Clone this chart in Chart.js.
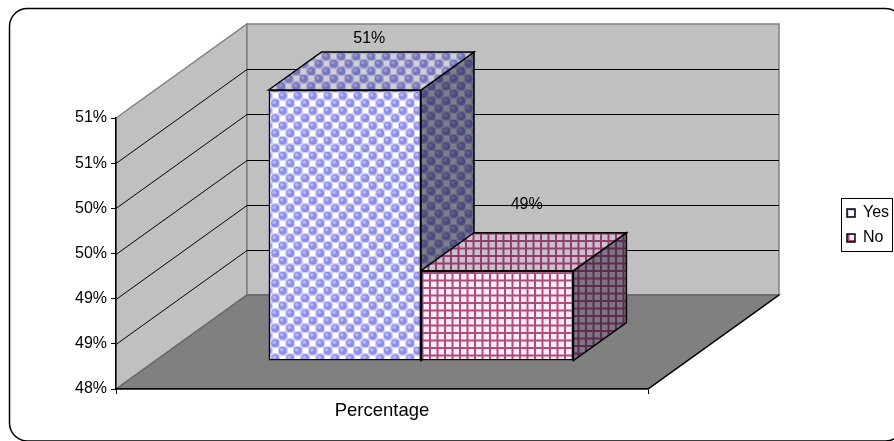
<!DOCTYPE html>
<html>
<head>
<meta charset="utf-8">
<title>Percentage</title>
<style>
  html, body { margin: 0; padding: 0; background: #fff; }
  canvas { display: block; }
</style>
<script src="https://cdn.jsdelivr.net/npm/chart.js@4/dist/chart.umd.min.js"></script>
</head>
<body>
<canvas id="chart" width="894" height="441"></canvas>
<script>
const categories = ['Percentage'];
const yesValues = [51];
const noValues = [49];
const axisMin = 48;
const axisMax = 51;
const axisStep = 0.5;

const FONT = { family: '"Liberation Sans", Arial, sans-serif', size: 16 };

// projection of the 3D box: floor depth, where the bars stand, how deep they are
const WALL = { dx: 131, dy: -94 };
const BAR_SHIFT = { dx: 39, dy: -28 };
const BAR_DEPTH = { dx: 53, dy: -38 };
const LABEL_LIFT = [13, 28];
const LABEL_NUDGE = [-2, 3];

function makeCell(draw) {
  const c = document.createElement('canvas');
  c.width = 15;
  c.height = 15;
  draw(c.getContext('2d'));
  return c;
}

// lilac bubbles on a white/pale check
function bubbleCell(g) {
  g.fillStyle = '#d2d2f9';
  g.fillRect(0, 0, 15, 15);
  g.fillStyle = '#ffffff';
  g.fillRect(9, 1, 5, 5);
  g.fillRect(1, 9, 5, 5);
  [[3.75, 3.75], [11.25, 11.25]].forEach(([x, y]) => {
    g.fillStyle = '#8f8fe8';
    g.beginPath();
    g.arc(x, y, 4, 0, Math.PI * 2);
    g.fill();
    g.fillStyle = '#b8b8f3';
    g.beginPath();
    g.arc(x - 1, y - 1, 1.8, 0, Math.PI * 2);
    g.fill();
  });
}

// maroon lattice on pale pink
function latticeCell(g) {
  g.fillStyle = '#fdeafb';
  g.fillRect(0, 0, 15, 15);
  g.fillStyle = '#b04c78';
  [0, 7.5].forEach(p => {
    g.fillRect(p, 0, 2, 15);
    g.fillRect(0, p, 15, 2);
  });
}

const ctx = document.getElementById('chart').getContext('2d');
const bubbles = ctx.createPattern(makeCell(bubbleCell), 'repeat');
const lattice = ctx.createPattern(makeCell(latticeCell), 'repeat');

function poly(g, pts) {
  g.beginPath();
  pts.forEach(([x, y], i) => (i ? g.lineTo(x, y) : g.moveTo(x, y)));
  g.closePath();
}

function face(g, pts, fill, shade) {
  poly(g, pts);
  g.fillStyle = fill;
  g.fill();
  g.fillStyle = `rgba(20,20,40,${shade})`;
  g.fill();
  g.strokeStyle = '#000';
  g.lineWidth = 1.5;
  g.stroke();
}

// frame, walls, floor and gridlines behind the axes
const backdrop = {
  id: 'backdrop',
  beforeDraw(chart) {
    const g = chart.ctx;
    const { left, right, bottom } = chart.chartArea;
    const y = chart.scales.y;
    const top = y.getPixelForValue(axisMax);
    const d = WALL;

    g.save();
    g.strokeStyle = '#000';
    g.lineWidth = 1.5;
    g.beginPath();
    g.roundRect(9.5, 8.5, 894, 432.5, 18);
    g.stroke();

    g.lineWidth = 1.5;
    g.strokeStyle = '#808080';
    poly(g, [[left, top], [left + d.dx, top + d.dy], [left + d.dx, bottom + d.dy], [left, bottom]]);
    g.fillStyle = '#c0c0c0';
    g.fill();
    g.stroke();
    poly(g, [[left + d.dx, top + d.dy], [right + d.dx, top + d.dy], [right + d.dx, bottom + d.dy], [left + d.dx, bottom + d.dy]]);
    g.fill();
    g.stroke();

    poly(g, [[left, bottom], [left + d.dx, bottom + d.dy], [right + d.dx, bottom + d.dy], [right, bottom]]);
    g.fillStyle = '#808080';
    g.fill();
    g.strokeStyle = '#666';
    g.stroke();
    g.strokeStyle = '#000';
    g.beginPath();
    g.moveTo(right, bottom);
    g.lineTo(right + d.dx, bottom + d.dy);
    g.stroke();

    g.strokeStyle = '#000';
    g.lineWidth = 1;
    y.ticks.forEach(t => {
      if (t.value <= axisMin || t.value >= axisMax) return;
      const py = Math.round(y.getPixelForValue(t.value)) + 0.5;
      g.beginPath();
      g.moveTo(left, py);
      g.lineTo(left + d.dx, py + d.dy);
      g.lineTo(right + d.dx, py + d.dy);
      g.stroke();
    });

    // legend frame
    g.strokeRect(841.5, 198.5, 51, 53);
    g.restore();
  },
};

// legend keeps its own drawing, it just sits to the right of the reserved gap
const legendPlacer = {
  id: 'legendPlacer',
  afterLayout(chart) {
    const l = chart.legend;
    l.left = 838;
    l.right = 894;
    l.top = 196;
    l.bottom = 256;
    l.width = l.right - l.left;
    l.height = l.bottom - l.top;
  },
};

// library bars give the front faces, moved onto the depth plane; top and side added here
const bars3d = {
  id: 'bars3d',
  // side and top of every bar first, left to right, so the right bar's top covers the left bar's side
  beforeDatasetsDraw(chart) {
    const g = chart.ctx;
    const d = BAR_DEPTH;
    g.save();
    chart.data.datasets.forEach((ds, i) => {
      const bar = chart.getDatasetMeta(i).data[0];
      const l = bar.x - bar.width / 2 + BAR_SHIFT.dx;
      const r = bar.x + bar.width / 2 + BAR_SHIFT.dx;
      const t = bar.y + BAR_SHIFT.dy;
      const b = bar.base + BAR_SHIFT.dy;
      face(g, [[r, t], [r + d.dx, t + d.dy], [r + d.dx, b + d.dy], [r, b]], ds.backgroundColor, 0.55);
      face(g, [[l, t], [l + d.dx, t + d.dy], [r + d.dx, t + d.dy], [r, t]], ds.backgroundColor, 0.2);
    });
    g.restore();
  },
  beforeDatasetDraw(chart) {
    chart.ctx.save();
    chart.ctx.translate(BAR_SHIFT.dx, BAR_SHIFT.dy);
  },
  afterDatasetDraw(chart) {
    chart.ctx.restore();
  },
  afterDatasetsDraw(chart) {
    const g = chart.ctx;
    g.save();
    g.font = `${FONT.size}px ${FONT.family}`;
    g.fillStyle = '#000';
    g.textAlign = 'center';
    g.textBaseline = 'middle';
    chart.data.datasets.forEach((ds, i) => {
      const bar = chart.getDatasetMeta(i).data[0];
      const x = bar.x + BAR_SHIFT.dx + BAR_DEPTH.dx / 2 + LABEL_NUDGE[i];
      const y = bar.y + BAR_SHIFT.dy + BAR_DEPTH.dy - LABEL_LIFT[i];
      g.fillText(ds.data[0] + '%', x, y);
    });
    g.restore();
  },
};

new Chart(ctx, {
  type: 'bar',
  data: {
    labels: categories,
    datasets: [
      { label: 'Yes', data: yesValues, base: axisMin, backgroundColor: bubbles, borderColor: '#000', borderWidth: 1.5, borderSkipped: false, clip: false },
      { label: 'No', data: noValues, base: axisMin, backgroundColor: lattice, borderColor: '#000', borderWidth: 1.5, borderSkipped: false, clip: false },
    ],
  },
  options: {
    responsive: false,
    animation: false,
    events: [],
    categoryPercentage: 0.573,
    barPercentage: 1,
    layout: { padding: { top: 118, right: 196, left: 0, bottom: 0 } },
    plugins: {
      tooltip: { enabled: false },
      title: { display: false },
      legend: {
        position: 'right',
        align: 'start',
        maxWidth: 50,
        labels: { boxWidth: 8, boxHeight: 8, padding: 9, color: '#000', font: FONT },
      },
    },
    scales: {
      x: {
        afterFit(s) { s.height = 52; },
        grid: { drawOnChartArea: false, color: '#000', tickColor: '#000', tickLength: 5 },
        border: { color: '#000', width: 1.5 },
        ticks: { color: '#000', font: { family: FONT.family, size: 18.5 }, padding: 6, maxRotation: 0 },
      },
      y: {
        min: axisMin,
        max: axisMax,
        afterFit(s) { s.width = 116; },
        grid: { drawOnChartArea: false, color: '#000', tickColor: '#000', tickLength: 5 },
        border: { color: '#000', width: 1.5 },
        ticks: {
          stepSize: axisStep,
          autoSkip: false,
          color: '#000',
          font: FONT,
          padding: 4,
          callback: v => Math.round(v) + '%',
        },
      },
    },
  },
  plugins: [backdrop, legendPlacer, bars3d],
});
</script>
</body>
</html>
